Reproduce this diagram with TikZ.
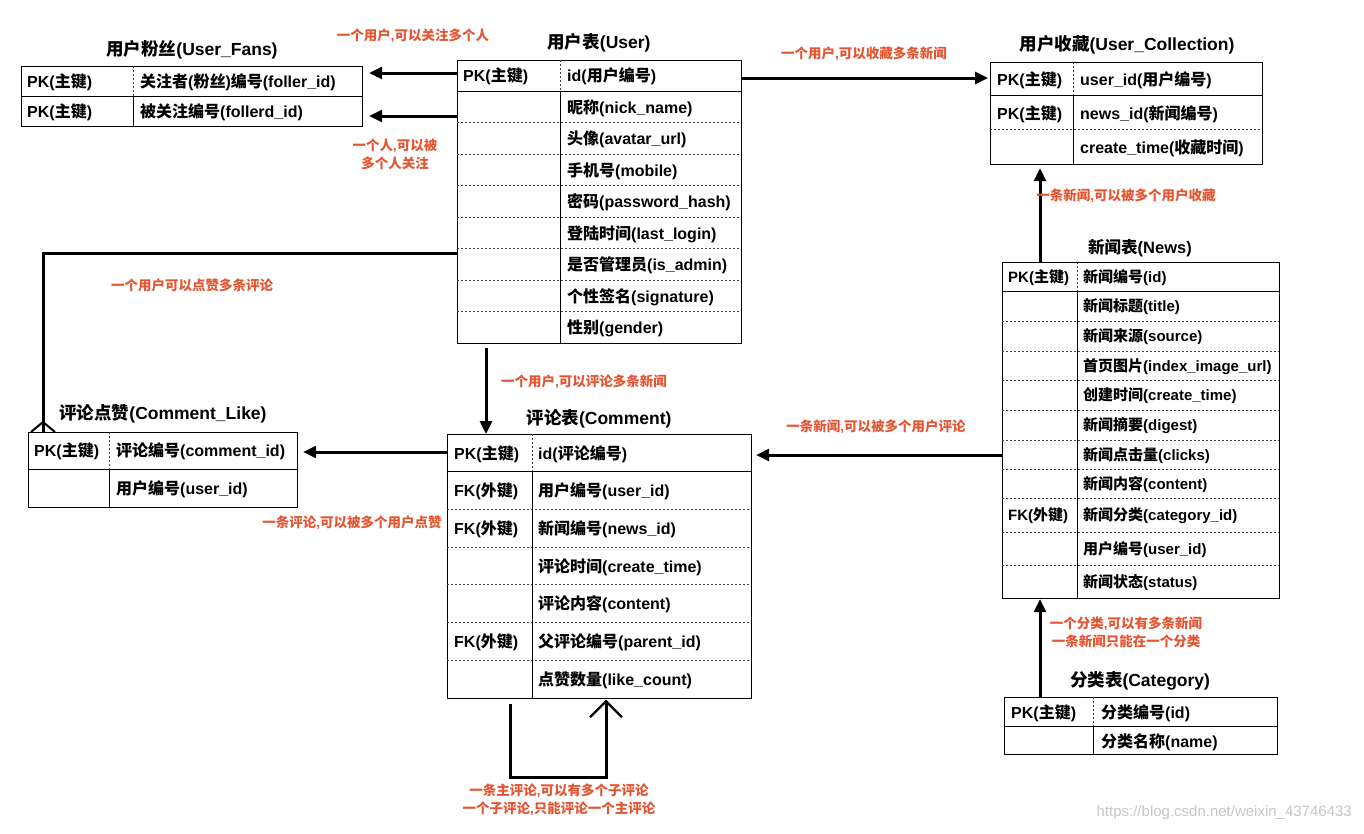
\documentclass[tikz,border=0pt]{standalone}
\usepackage{fontspec}
\setmainfont{Liberation Sans}
\newfontfamily\cjkfont{Noto Sans CJK SC}
\newfontfamily\latfont{Liberation Sans}
\usetikzlibrary{arrows.meta,calc}
\XeTeXinterchartokenstate=1
\newXeTeXintercharclass\cjkclass
\newcount\cjkcnt
\cjkcnt="4E00
\loop\ifnum\cjkcnt<"A000
  \XeTeXcharclass\cjkcnt=\cjkclass
  \advance\cjkcnt by 1
\repeat
\XeTeXinterchartoks 0 \cjkclass = {\cjkfont}
\XeTeXinterchartoks 4095 \cjkclass = {\cjkfont}
\XeTeXinterchartoks \cjkclass 0 = {\latfont}
\XeTeXinterchartoks \cjkclass 4095 = {\latfont}
\definecolor{lblred}{RGB}{230,85,50}
\tikzset{
  tbl/.style={draw=black, line width=1.2pt, inner sep=0pt, anchor=north west},
  sep/.style={line width=1pt, black},
  dot/.style={line width=0.9pt, black!75, dash pattern=on 2pt off 2pt},
  fld/.style={anchor=west, inner sep=0pt, yshift=-1pt, font=\fontsize{16}{19}\selectfont\bfseries, text=black},
  nfld/.style={fld, font=\fontsize{15}{18}\selectfont\bfseries},
  ttl/.style={inner sep=0pt, font=\fontsize{17.5}{21}\selectfont\bfseries},
  lbl/.style={inner sep=0pt, font=\fontsize{13.5}{18}\selectfont\bfseries, text=lblred, align=center},
  wm/.style={inner sep=0pt, anchor=east, font=\fontsize{15}{18}\selectfont, text=black!22},
  conn/.style={line width=3pt, black},
  arr/.style={conn, -{Triangle[length=13pt,width=12pt]}},
}
\begin{document}
\begin{tikzpicture}[x=1pt,y=-1pt]
\fill[white] (0,0) rectangle (1364,833);
\useasboundingbox (0,0) rectangle (1364,833);

% ---------- User_Fans ----------
\node[tbl, minimum width=341pt, minimum height=60pt] (UF) at (21,66) {};
\draw[sep] (21,96) -- (362,96);
\draw[dot] (133,66) -- (133,96);
\draw[sep] (133,96) -- (133,126);
\node[fld] (UF-k1) at (27,81) {PK(主键)};
\node[fld] (UF-k2) at (27,111) {PK(主键)};
\node[fld] (UF-1) at (140,81) {关注者(粉丝)编号(foller\_id)};
\node[fld] (UF-2) at (140,111) {被关注编号(follerd\_id)};
\node[ttl] (UF-t) at (192,50) {用户粉丝(User\_Fans)};

% ---------- User ----------
\node[tbl, minimum width=284pt, minimum height=283pt] (U) at (457,60) {};
\draw[sep] (457,91.4) -- (741,91.4);
\foreach \k in {2,...,8} \draw[dot] (457,{60+\k*31.44}) -- (741,{60+\k*31.44});
\draw[dot] (560,60) -- (560,91.4);
\draw[sep] (560,91.4) -- (560,343);
\node[fld] (U-k1) at (463,75.7) {PK(主键)};
\foreach \t [count=\k] in {id(用户编号),昵称(nick\_name),头像(avatar\_url),手机号(mobile),密码(password\_hash),登陆时间(last\_login),是否管理员(is\_admin),个性签名(signature),性别(gender)}
  \node[fld] (U-\k) at (567,{60+(\k-0.5)*31.44}) {\t};
\node[ttl] (U-t) at (599,43) {用户表(User)};

% ---------- User_Collection ----------
\node[tbl, minimum width=272pt, minimum height=102pt] (UC) at (990,62) {};
\draw[sep] (990,95) -- (1262,95);
\draw[dot] (990,129) -- (1262,129);
\draw[dot] (1073,62) -- (1073,95);
\draw[sep] (1073,95) -- (1073,164);
\node[fld] (UC-k1) at (997,79.5) {PK(主键)};
\node[fld] (UC-k2) at (997,113) {PK(主键)};
\node[fld] (UC-1) at (1080,79.5) {user\_id(用户编号)};
\node[fld] (UC-2) at (1080,113) {news\_id(新闻编号)};
\node[fld] (UC-3) at (1080,147) {create\_time(收藏时间)};
\node[ttl] (UC-t) at (1127,45) {用户收藏(User\_Collection)};

% ---------- News ----------
\node[tbl, minimum width=277pt, minimum height=336pt] (N) at (1002,262) {};
\draw[sep] (1002,291) -- (1279,291);
\foreach \y in {321,351,380,410,440,469,498,532,565} \draw[dot] (1002,\y) -- (1279,\y);
\draw[dot] (1077,262) -- (1077,291);
\draw[sep] (1077,291) -- (1077,598);
\node[nfld] (N-k1) at (1008,276.5) {PK(主键)};
\node[nfld] (N-k9) at (1008,515) {FK(外键)};
\foreach \t/\y [count=\k] in {新闻编号(id)/276.5, 新闻标题(title)/306, 新闻来源(source)/336, 首页图片(index\_image\_url)/365.5, 创建时间(create\_time)/395, 新闻摘要(digest)/425, 新闻点击量(clicks)/454.5, 新闻内容(content)/483.5, 新闻分类(category\_id)/515, 用户编号(user\_id)/548.5, 新闻状态(status)/581.5}
  \node[nfld] (N-\k) at (1083,\y) {\t};
\node[ttl, font=\fontsize{16.5}{20}\selectfont\bfseries] (N-t) at (1140,248) {新闻表(News)};

% ---------- Category ----------
\node[tbl, minimum width=273pt, minimum height=57pt] (CA) at (1004,697) {};
\draw[sep] (1004,726) -- (1277,726);
\draw[dot] (1093,697) -- (1093,726);
\draw[sep] (1093,726) -- (1093,754);
\node[fld] (CA-k1) at (1011,712) {PK(主键)};
\node[fld] (CA-1) at (1101,712) {分类编号(id)};
\node[fld] (CA-2) at (1101,741) {分类名称(name)};
\node[ttl] (CA-t) at (1140,681) {分类表(Category)};

% ---------- Comment ----------
\node[tbl, minimum width=304pt, minimum height=264pt] (C) at (447,434) {};
\draw[sep] (447,471.7) -- (751,471.7);
\foreach \k in {2,...,6} \draw[dot] (447,{434+\k*37.71}) -- (751,{434+\k*37.71});
\draw[dot] (532,434) -- (532,471.7);
\draw[sep] (532,471.7) -- (532,698);
\node[fld] (C-k1) at (454,452.9) {PK(主键)};
\node[fld] (C-k2) at (454,490.6) {FK(外键)};
\node[fld] (C-k3) at (454,528.3) {FK(外键)};
\node[fld] (C-k6) at (454,641.4) {FK(外键)};
\foreach \t [count=\k] in {id(评论编号),用户编号(user\_id),新闻编号(news\_id),评论时间(create\_time),评论内容(content),父评论编号(parent\_id),点赞数量(like\_count)}
  \node[fld] (C-\k) at (538,{434+(\k-0.5)*37.71}) {\t};
\node[ttl] (C-t) at (599,419) {评论表(Comment)};

% ---------- Comment_Like ----------
\node[tbl, minimum width=269pt, minimum height=75pt] (CL) at (28,432) {};
\draw[sep] (28,469) -- (297,469);
\draw[dot] (109,432) -- (109,469);
\draw[sep] (109,469) -- (109,507);
\node[fld] (CL-k1) at (34,450.5) {PK(主键)};
\node[fld] (CL-1) at (116,450.5) {评论编号(comment\_id)};
\node[fld] (CL-2) at (116,488) {用户编号(user\_id)};
\node[ttl] (CL-t) at (163,414) {评论点赞(Comment\_Like)};

% ---------- connectors ----------
\draw[arr, shorten >=6pt] ([yshift=-13pt]U.north west) -- ([yshift=-7pt]UF.north east);
\draw[arr, shorten >=6pt] ([yshift=-56pt]U.north west) -- ([yshift=-50pt]UF.north east);
\draw[conn] ([yshift=-193pt]U.north west) -| ([xshift=15pt]CL.north west);
\draw[conn, line width=2pt] ([xshift=3pt]CL.north west) -- ([xshift=15pt,yshift=10pt]CL.north west) -- ([xshift=27pt]CL.north west);
\draw[arr, shorten >=2pt] ([yshift=-18pt]U.north east) -- ([yshift=-16pt]UC.north west);
\draw[arr] ([xshift=29pt,yshift=-4pt]U.south west) -- ([xshift=39pt]C.north west);
\draw[arr, shorten >=5pt] ([yshift=-18pt]C.north west) -- ([yshift=-20pt]CL.north east);
\draw[arr, shorten >=4pt] ([yshift=-193pt]N.north west) -- ([yshift=-21pt]C.north east);
\draw[arr, shorten >=3pt] ([xshift=38pt]N.north west) -- ([xshift=50pt]UC.south west);
\draw[arr] ([xshift=36pt]CA.north west) -- ([xshift=38pt]N.south west);
\draw[conn] ([xshift=63pt,yshift=-5pt]C.south west) -- ++(0,73) -| ([xshift=159pt,yshift=-2pt]C.south west);
\draw[conn, line width=2.4pt] ([xshift=143pt,yshift=-18pt]C.south west) -- ([xshift=159pt,yshift=-2pt]C.south west) -- ([xshift=175pt,yshift=-18pt]C.south west);

% ---------- labels ----------
\node[lbl] (L1) at (413,36) {一个用户,可以关注多个人};
\node[lbl] (L2) at (395,154) {一个人,可以被\\多个人关注};
\node[lbl] (L3) at (864,54) {一个用户,可以收藏多条新闻};
\node[lbl] (L4) at (1126,196) {一条新闻,可以被多个用户收藏};
\node[lbl] (L5) at (192,285) {一个用户可以点赞多条评论};
\node[lbl] (L6) at (584,382) {一个用户,可以评论多条新闻};
\node[lbl] (L7) at (352,523) {一条评论,可以被多个用户点赞};
\node[lbl] (L8) at (876,427) {一条新闻,可以被多个用户评论};
\node[lbl] (L9) at (1126,632) {一个分类,可以有多条新闻\\一条新闻只能在一个分类};
\node[lbl] (L10) at (559,799.5) {一条主评论,可以有多个子评论\\一个子评论,只能评论一个主评论};
\node[wm] (W) at (1352,813) {https://blog.csdn.net/weixin\_43746433};
\end{tikzpicture}
\end{document}
